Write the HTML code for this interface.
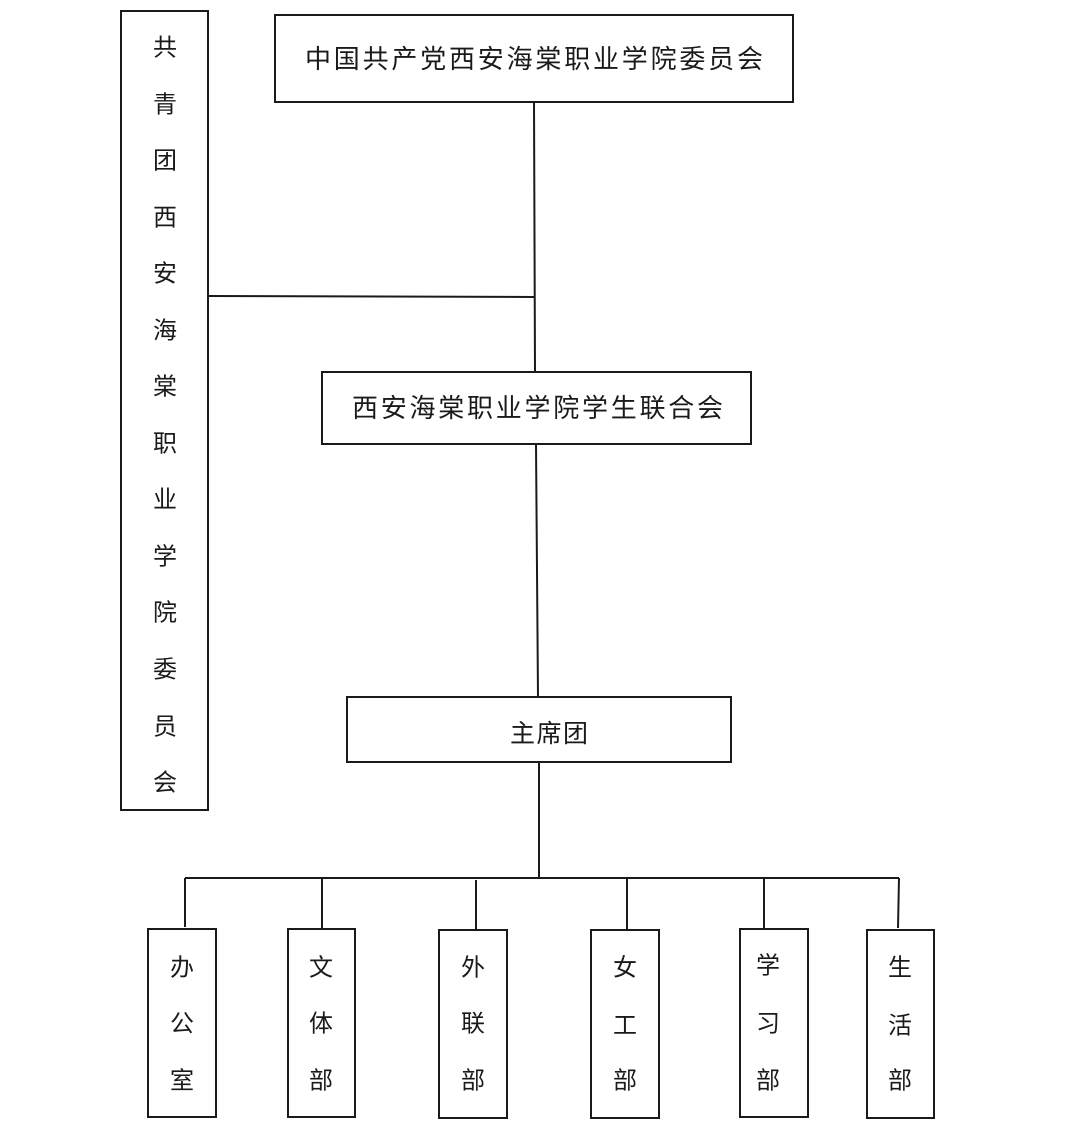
<!DOCTYPE html>
<html>
<head>
<meta charset="utf-8">
<style>
  html, body { margin: 0; padding: 0; background: #ffffff; }
  body { width: 1080px; height: 1133px; overflow: hidden; }
  svg { display: block; }
  text { font-family: "Liberation Sans", "Noto Sans CJK SC", sans-serif; fill: #1a1a1a; }
</style>
</head>
<body>
<svg width="1080" height="1133" viewBox="0 0 1080 1133" xmlns="http://www.w3.org/2000/svg">
  <rect x="0" y="0" width="1080" height="1133" fill="#ffffff"/>
  <g fill="none" stroke="#1a1a1a" stroke-width="2">
    <!-- boxes -->
    <rect x="121" y="11" width="87" height="799"/>
    <rect x="275" y="15" width="518" height="87"/>
    <rect x="322" y="372" width="429" height="72"/>
    <rect x="347" y="697" width="384" height="65"/>
    <rect x="148" y="929" width="68" height="188"/>
    <rect x="288" y="929" width="67" height="188"/>
    <rect x="439" y="930" width="68" height="188"/>
    <rect x="591" y="930" width="68" height="188"/>
    <rect x="740" y="929" width="68" height="188"/>
    <rect x="867" y="930" width="67" height="188"/>
    <!-- connectors -->
    <line x1="534" y1="102" x2="535" y2="372"/>
    <line x1="208" y1="296" x2="535" y2="297"/>
    <line x1="536" y1="444" x2="538" y2="697"/>
    <line x1="539" y1="762" x2="539" y2="879"/>
    <line x1="185" y1="878" x2="899" y2="878"/>
    <line x1="185" y1="878" x2="185" y2="927"/>
    <line x1="322" y1="878" x2="322" y2="929"/>
    <line x1="476" y1="880" x2="476" y2="930"/>
    <line x1="627" y1="878" x2="627" y2="930"/>
    <line x1="764" y1="878" x2="764" y2="929"/>
    <line x1="899" y1="878" x2="898" y2="928"/>
  </g>

  <!-- top title -->
  <text x="305" y="59" font-size="26" dominant-baseline="central" textLength="458" lengthAdjust="spacing">中国共产党西安海棠职业学院委员会</text>
  <!-- student union -->
  <text x="352" y="408" font-size="26" dominant-baseline="central" textLength="371" lengthAdjust="spacing">西安海棠职业学院学生联合会</text>
  <!-- presidium -->
  <text x="510" y="734" font-size="25" dominant-baseline="central" textLength="78" lengthAdjust="spacing">主席团</text>

  <!-- left vertical: 共青团西安海棠职业学院委员会 -->
  <g font-size="24" text-anchor="middle" dominant-baseline="central">
    <text x="165" y="48">共</text>
    <text x="165" y="105">青</text>
    <text x="165" y="161">团</text>
    <text x="165" y="218">西</text>
    <text x="165" y="274">安</text>
    <text x="165" y="331">海</text>
    <text x="165" y="387">棠</text>
    <text x="165" y="444">职</text>
    <text x="165" y="500">业</text>
    <text x="165" y="557">学</text>
    <text x="165" y="613">院</text>
    <text x="165" y="670">委</text>
    <text x="165" y="727">员</text>
    <text x="165" y="783">会</text>
  </g>

  <!-- bottom departments -->
  <g font-size="24" text-anchor="middle" dominant-baseline="central">
    <text x="182" y="968">办</text>
    <text x="182" y="1024">公</text>
    <text x="182" y="1081">室</text>

    <text x="321" y="968">文</text>
    <text x="321" y="1024">体</text>
    <text x="321" y="1081">部</text>

    <text x="473" y="968">外</text>
    <text x="473" y="1024">联</text>
    <text x="473" y="1081">部</text>

    <text x="625" y="968">女</text>
    <text x="625" y="1026">工</text>
    <text x="625" y="1081">部</text>

    <text x="768" y="966">学</text>
    <text x="768" y="1024">习</text>
    <text x="768" y="1081">部</text>

    <text x="900" y="968">生</text>
    <text x="900" y="1026">活</text>
    <text x="900" y="1081">部</text>
  </g>
</svg>
</body>
</html>
